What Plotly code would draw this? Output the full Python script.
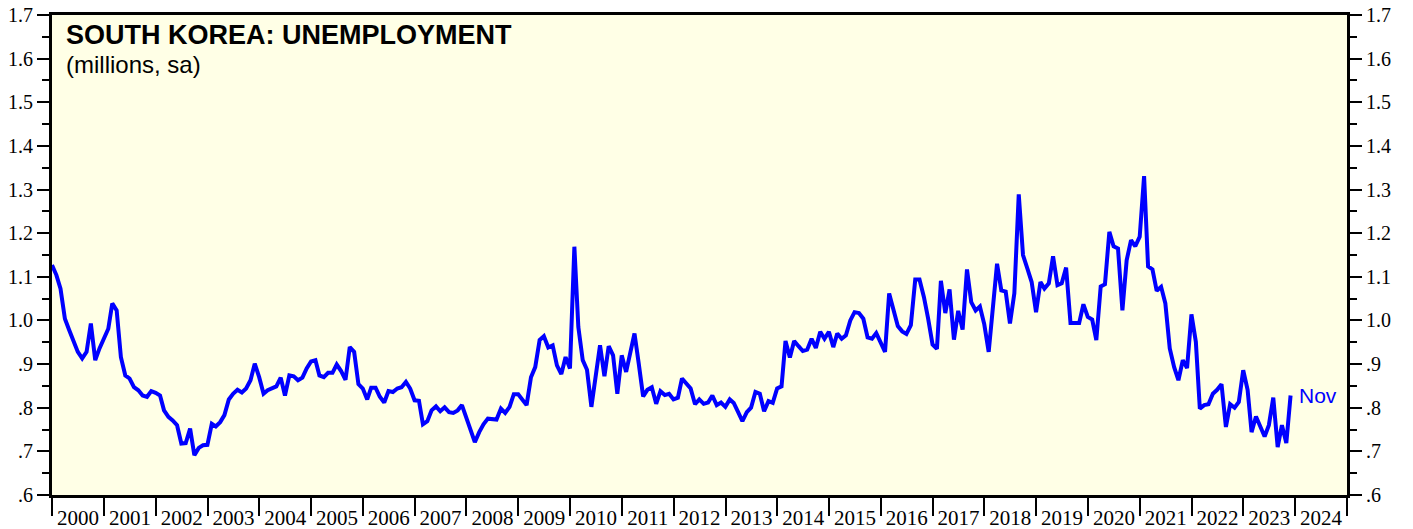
import pandas as pd
import plotly.graph_objects as go

# Monthly South Korea unemployment (millions, sa), Dec 1999 .. Nov 2023
start_month = "1999-12-31"
unemployment = [
    1.127, 1.104, 1.073, 1.004, 0.978, 0.955, 0.928, 0.913, 0.928, 0.993, 0.909, 0.936,
    0.958, 0.981, 1.039, 1.023, 0.916, 0.874, 0.867, 0.847, 0.840, 0.828, 0.825, 0.838,
    0.834, 0.828, 0.794, 0.779, 0.771, 0.760, 0.718, 0.719, 0.752, 0.691, 0.708, 0.714,
    0.715, 0.763, 0.757, 0.767, 0.783, 0.819, 0.832, 0.841, 0.835, 0.844, 0.863, 0.901,
    0.870, 0.832, 0.840, 0.844, 0.849, 0.869, 0.828, 0.874, 0.872, 0.863, 0.869, 0.890,
    0.906, 0.909, 0.874, 0.870, 0.880, 0.880, 0.899, 0.884, 0.864, 0.939, 0.928, 0.854,
    0.844, 0.819, 0.846, 0.846, 0.825, 0.812, 0.838, 0.836, 0.844, 0.847, 0.859, 0.844,
    0.817, 0.816, 0.762, 0.769, 0.794, 0.803, 0.792, 0.801, 0.790, 0.788, 0.794, 0.806,
    0.777, 0.748, 0.721, 0.744, 0.762, 0.775, 0.773, 0.773, 0.798, 0.788, 0.802, 0.831,
    0.831, 0.817, 0.806, 0.870, 0.893, 0.955, 0.964, 0.938, 0.943, 0.897, 0.877, 0.916,
    0.890, 1.169, 0.985, 0.909, 0.887, 0.802, 0.878, 0.943, 0.872, 0.941, 0.920, 0.832,
    0.920, 0.882, 0.924, 0.970, 0.901, 0.826, 0.841, 0.847, 0.809, 0.838, 0.829, 0.832,
    0.819, 0.823, 0.867, 0.854, 0.844, 0.808, 0.819, 0.809, 0.812, 0.828, 0.806, 0.812,
    0.802, 0.819, 0.811, 0.790, 0.769, 0.790, 0.800, 0.836, 0.832, 0.792, 0.815, 0.811,
    0.844, 0.849, 0.953, 0.915, 0.953, 0.941, 0.930, 0.933, 0.958, 0.937, 0.974, 0.958,
    0.974, 0.939, 0.970, 0.958, 0.966, 1.000, 1.019, 1.017, 1.004, 0.961, 0.958, 0.971,
    0.951, 0.928, 1.062, 1.027, 0.987, 0.975, 0.969, 0.989, 1.094, 1.094, 1.054, 1.004,
    0.945, 0.935, 1.091, 1.017, 1.071, 0.956, 1.022, 0.979, 1.117, 1.042, 1.023, 1.032,
    0.991, 0.928, 1.031, 1.130, 1.069, 1.066, 0.993, 1.062, 1.289, 1.150, 1.119, 1.088,
    1.019, 1.088, 1.073, 1.085, 1.147, 1.081, 1.085, 1.121, 0.994, 0.994, 0.994, 1.037,
    1.008, 1.002, 0.955, 1.078, 1.083, 1.203, 1.170, 1.165, 1.023, 1.138, 1.184, 1.170,
    1.192, 1.331, 1.124, 1.117, 1.068, 1.077, 1.039, 0.936, 0.893, 0.863, 0.909, 0.891,
    1.014, 0.951, 0.798, 0.806, 0.808, 0.832, 0.841, 0.854, 0.756, 0.808, 0.800, 0.813,
    0.886, 0.841, 0.744, 0.780, 0.756, 0.734, 0.760, 0.823, 0.710, 0.760, 0.719, 0.828,
]
dates = pd.date_range(start_month, periods=len(unemployment), freq="ME")

y_tickvals = [0.6, 0.7, 0.8, 0.9, 1.0, 1.1, 1.2, 1.3, 1.4, 1.5, 1.6, 1.7]
y_ticktext = [".6", ".7", ".8", ".9", "1.0", "1.1", "1.2", "1.3", "1.4", "1.5", "1.6", "1.7"]
last_label = "Nov"
title_text = "SOUTH KOREA: UNEMPLOYMENT"
subtitle_text = "(millions, sa)"

BLUE = "#0000FF"
SERIF = "Liberation Serif, Times New Roman, serif"
SANS = "Liberation Sans, Arial, sans-serif"

fig = go.Figure()
fig.add_trace(go.Scatter(x=dates, y=unemployment, mode="lines",
                         line=dict(color=BLUE, width=4), showlegend=False,
                         hoverinfo="x+y"))
# invisible trace to carry the right-hand axis
fig.add_trace(go.Scatter(x=dates, y=unemployment, mode="lines", yaxis="y2",
                         line=dict(color="rgba(0,0,0,0)", width=0), showlegend=False,
                         hoverinfo="skip"))

yaxis_common = dict(
    range=[0.6, 1.7], tickvals=y_tickvals, ticktext=y_ticktext,
    ticks="outside", ticklen=12, tickwidth=2, tickcolor="black",
    minor=dict(dtick=0.05, tick0=0.6, ticks="outside", ticklen=7, tickwidth=2, tickcolor="black"),
    showgrid=False, zeroline=False, automargin=False,
    ticklabeloverflow="allow",
    tickfont=dict(family=SERIF, size=20, color="black"),
    fixedrange=True,
)

# page has an 8px body margin, so the figure is sized/margined to compensate
fig.update_layout(
    width=1405, height=521,
    margin=dict(l=44, r=66, t=7, b=34, autoexpand=False),
    paper_bgcolor="white", plot_bgcolor="#FFFFE6",
    xaxis=dict(
        type="date", range=["1999-12-31", "2025-01-01"],
        dtick="M12", tick0="2000-01-01", tickformat="%Y", ticklabelmode="period",
        ticks="outside", ticklen=18, tickwidth=2, tickcolor="black",
        ticklabelstandoff=-16, automargin=False, ticklabeloverflow="allow",
        showline=True, linecolor="black", linewidth=3, mirror=True,
        showgrid=False, zeroline=False,
        tickfont=dict(family=SERIF, size=21, color="black"),
    ),
    yaxis=dict(**yaxis_common, side="left", showline=True, linecolor="black",
               linewidth=3, mirror=True),
    yaxis2=dict(**yaxis_common, side="right", overlaying="y", showline=True,
                linecolor="black", linewidth=3),
    annotations=[
        dict(text=f"<b>{title_text}</b>", xref="paper", yref="paper", x=0.009, y=0.958,
             xanchor="left", yanchor="middle", showarrow=False,
             font=dict(family=SANS, size=27, color="black")),
        dict(text=subtitle_text, xref="paper", yref="paper", x=0.009, y=0.896,
             xanchor="left", yanchor="middle", showarrow=False,
             font=dict(family=SANS, size=24, color="black")),
        dict(text=last_label, x=dates[-1], y=unemployment[-1], xref="x", yref="y",
             xanchor="left", yanchor="middle", xshift=6, showarrow=False,
             font=dict(family=SANS, size=21, color=BLUE)),
    ],
)

fig.write_html("out.html")
